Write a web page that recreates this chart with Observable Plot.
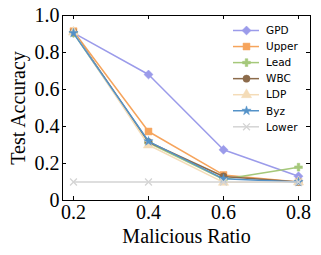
<!DOCTYPE html>
<html>
<head>
<meta charset="utf-8">
<script src="https://cdn.jsdelivr.net/npm/d3@7"></script>
<script src="https://cdn.jsdelivr.net/npm/@observablehq/plot@0.6"></script>
<style>
  html, body { margin: 0; padding: 0; background: #fff; }
  #chart { width: 321px; height: 255px; }
</style>
</head>
<body>
<div id="chart"></div>
<script>
const ratios = [0.2, 0.4, 0.6, 0.8];
const xTicks = [0.2, 0.4, 0.6, 0.8];
const yTicks = [0, 0.2, 0.4, 0.6, 0.8, 1.0];
const yTickLabels = ["0", "0.2", "0.4", "0.6", "0.8", "1.0"];

const names = ["GPD", "Upper", "Lead", "WBC", "LDP", "Byz", "Lower"];
const gpd   = [0.906, 0.681, 0.274, 0.131];
const upper = [0.915, 0.373, 0.138, 0.100];
const lead  = [0.905, 0.312, 0.115, 0.180];
const wbc   = [0.910, 0.316, 0.130, 0.100];
const ldp   = [0.910, 0.300, 0.098, 0.100];
const byz   = [0.905, 0.320, 0.117, 0.100];
const lower = [0.100, 0.100, 0.100, 0.100];
const seriesValues = [gpd, upper, lead, wbc, ldp, byz, lower];

const colors  = ["#9b9bea", "#f6a45c", "#a5c87a", "#8c6b4b", "#f4dcb8", "#5492c8", "#d4d4d4"];
const symbols = ["square", "square", "cross", "circle", "triangle", "star", "times"];
const rotates = [45, 0, 0, 0, 0, 0, 0];
const radii   = [3.6, 3.9, 3.3, 3.6, 3.8, 2.9, 3.2];

const rows = [];
names.forEach((n, i) => seriesValues[i].forEach((v, j) => rows.push({name: n, idx: i, x: ratios[j], y: v})));

const serif = "'Liberation Serif', 'Times New Roman', serif";
const W = 321, H = 255, mL = 62, mR = 11, mT = 15, mB = 55;
const innerW = W - mL - mR, innerH = H - mT - mB;

const marks = [];
names.forEach((n, i) => {
  const d = rows.filter(r => r.idx === i);
  marks.push(Plot.line(d, {x: "x", y: "y", stroke: colors[i], strokeWidth: 1.5}));
  const isStroke = symbols[i] === "times";
  marks.push(Plot.dot(d, {
    x: "x", y: "y", symbol: () => symbols[i], r: radii[i], rotate: rotates[i],
    fill: isStroke ? "none" : colors[i],
    stroke: colors[i], strokeWidth: isStroke ? 1.3 : 0.5
  }));
});

const plot = Plot.plot({
  width: W, height: H,
  marginLeft: mL, marginRight: mR, marginTop: mT, marginBottom: mB,
  style: {fontFamily: serif, fontSize: "20px", background: "white", color: "black", overflow: "visible"},
  x: {domain: [0.1707, 0.832]},
  y: {domain: [0, 1]},
  marks: [
    Plot.axisX({ticks: xTicks, tickSize: 0, tickPadding: 4, tickFormat: d => d.toFixed(1),
      fontSize: 20, fontFamily: serif,
      label: "Malicious Ratio", labelAnchor: "center", labelArrow: "none", labelOffset: 42}),
    Plot.axisY({ticks: yTicks, tickSize: 0, tickPadding: 3, tickFormat: (d, i) => yTickLabels[i],
      fontSize: 20, fontFamily: serif,
      label: "Test Accuracy", labelAnchor: "center", labelArrow: "none", labelOffset: 52}),
    ...marks,
    Plot.tickX(xTicks, {x: d => d, insetTop: innerH - 4, stroke: "black", strokeWidth: 1}),
    Plot.tickX(xTicks, {x: d => d, insetBottom: innerH - 4, stroke: "black", strokeWidth: 1}),
    Plot.tickY(yTicks, {y: d => d, insetRight: innerW - 4, stroke: "black", strokeWidth: 1}),
    Plot.tickY(yTicks, {y: d => d, insetLeft: innerW - 4, stroke: "black", strokeWidth: 1}),
    Plot.frame({stroke: "black", strokeWidth: 1})
  ]
});

// Legend inside the plot, upper right
const svg = d3.select(plot);
const lg = svg.append("g")
  .attr("font-family", "'DejaVu Sans', sans-serif")
  .attr("font-size", 10.5)
  .attr("text-anchor", "start");
const symMap = {square: d3.symbolSquare, cross: d3.symbolCross, circle: d3.symbolCircle,
  triangle: d3.symbolTriangle, star: d3.symbolStar, times: d3.symbolTimes};
names.forEach((n, i) => {
  const y = 30.5 + i * 16.05;
  lg.append("line").attr("x1", 233).attr("x2", 259).attr("y1", y).attr("y2", y)
    .attr("stroke", colors[i]).attr("stroke-width", 1.5);
  const isStroke = symbols[i] === "times";
  lg.append("path")
    .attr("d", d3.symbol(symMap[symbols[i]], Math.PI * radii[i] * radii[i])())
    .attr("transform", `translate(246.5,${y}) rotate(${rotates[i]})`)
    .attr("fill", isStroke ? "none" : colors[i])
    .attr("stroke", colors[i]).attr("stroke-width", isStroke ? 1.3 : 0.5);
  lg.append("text").attr("x", 266).attr("y", y).attr("dy", "0.36em")
    .attr("text-anchor", "start").attr("fill", "black").text(n);
});

document.getElementById("chart").appendChild(plot);
</script>
</body>
</html>
